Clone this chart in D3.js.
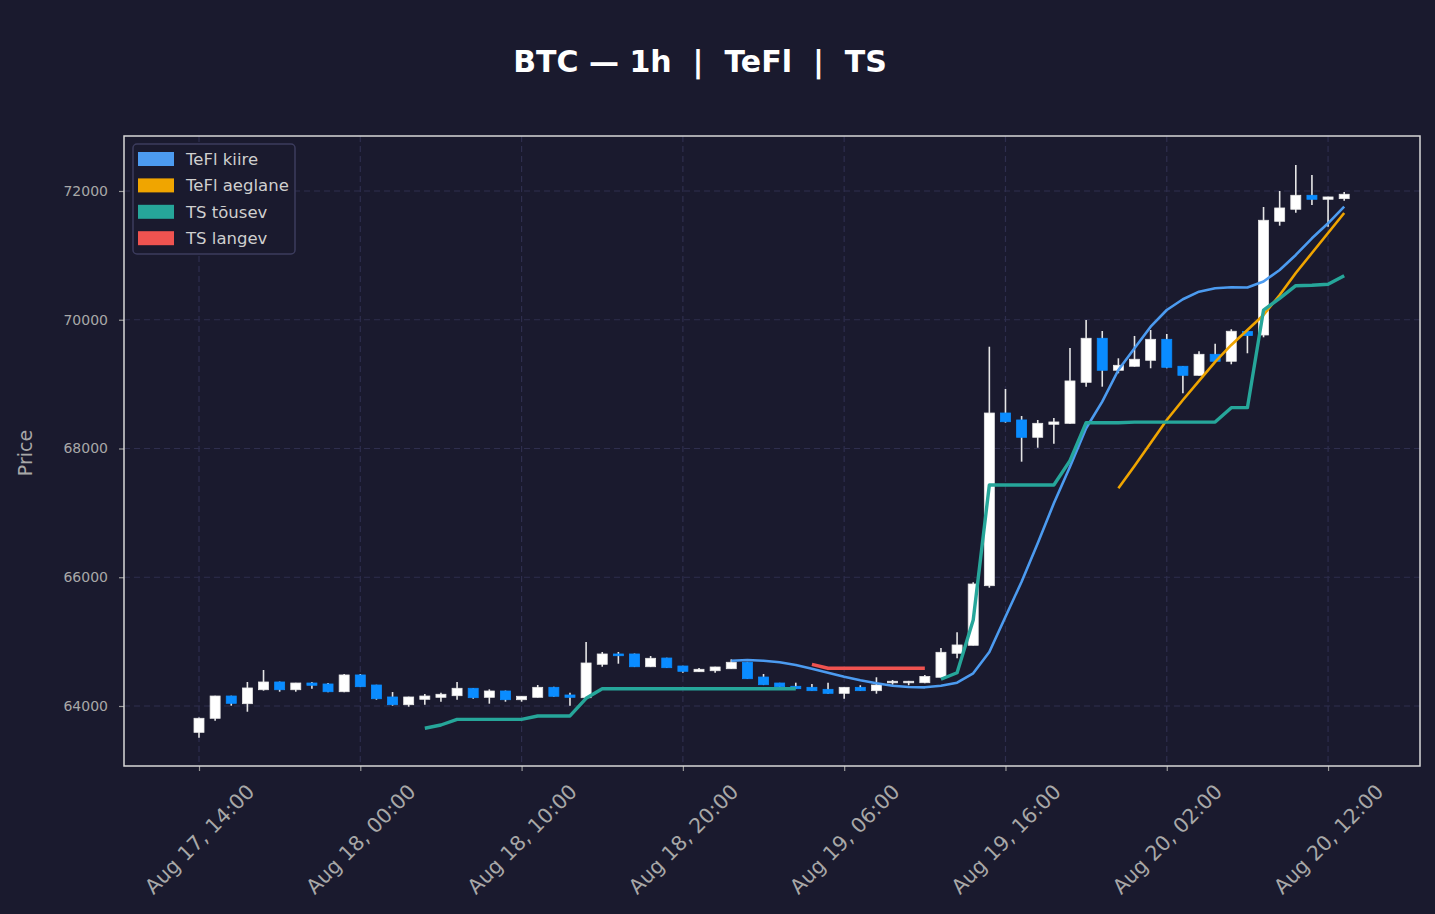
<!DOCTYPE html>
<html>
<head>
<meta charset="utf-8">
<script src="https://cdn.jsdelivr.net/npm/d3@7/dist/d3.min.js"></script>
<style>
  html, body { margin: 0; padding: 0; background: #1a1a2e; }
  svg { display: block; font-family: "DejaVu Sans", sans-serif; }
</style>
</head>
<body>
<div id="graf"></div>
<script>
// hourly candles, first one is Aug 17 14:00
const startTime = Date.UTC(2024, 7, 17, 14, 0)
const hours = d3.range(72)

const opens = [63591,63809,64155,64036,64253,64373,64253,64357,64342,64222,
  64482,64326,64140,64020,64104,64135,64160,64275,64135,64233,
  64098,64135,64290,64171,64129,64648,64808,64808,64610,64745,
  64621,64533,64548,64579,64679,64450,64357,64306,64290,64259,
  64197,64290,64238,64362,64362,64362,64446,64819,64943,65869,
  68551,68443,68174,68376,68391,69028,69712,69215,69277,69370,
  69696,69277,69137,69463,69355,69817,69763,71529,71716,71933,
  71871,71881]
const highs = [63820,64160,64160,64373,64559,64380,64360,64373,64357,64497,
  64497,64330,64217,64145,64186,64207,64373,64280,64259,64240,
  64155,64326,64300,64207,64994,64839,64839,64815,64777,64750,
  64625,64590,64610,64725,64685,64497,64360,64362,64342,64362,
  64295,64322,64446,64404,64390,64482,64901,65145,65922,69581,
  68924,68505,68443,68474,69561,69996,69825,69401,69748,69841,
  69779,69280,69510,69628,69852,69825,71751,72000,72404,72248,
  71910,71984]
const lows = [63508,63772,64005,63911,64238,64222,64222,64269,64215,64215,
  64295,64098,64005,63989,64020,64067,64098,64113,64036,64067,
  64067,64130,64145,64005,64125,64610,64657,64605,64605,64590,
  64517,64528,64517,64575,64420,64325,64295,64265,64235,64190,
  64113,64235,64191,64331,64322,64355,64440,64741,64940,65838,
  68401,67795,68012,68075,68385,68960,68960,69168,69270,69246,
  69246,68857,69130,69350,69308,69479,69727,71461,71663,71783,
  71445,71849]
const closes = [63809,64155,64042,64280,64373,64253,64357,64322,64222,64482,
  64300,64113,64020,64140,64155,64182,64275,64129,64233,64098,
  64151,64290,64151,64135,64668,64808,64781,64610,64741,64595,
  64539,64570,64606,64679,64424,64331,64300,64269,64238,64197,
  64290,64238,64326,64384,64384,64458,64834,64948,65895,68551,
  68416,68174,68391,68412,69049,69712,69215,69292,69386,69696,
  69261,69137,69463,69355,69821,69755,71545,71736,71933,71871,
  71907,71949]

const _ = null
// TeFl kiire (fast), starts at candle 33
const teflKiire = [_,_,_,_,_,_,_,_,_,_, _,_,_,_,_,_,_,_,_,_,
  _,_,_,_,_,_,_,_,_,_, _,_,_,64704,64715,64704,64679,64637,64579,64517,
  64455,64399,64353,64315,64295,64290,64315,64362,64508,64839,
  65387,65931,66527,67149,67717,68314,68727,69219,69557,69892,
  70151,70318,70436,70488,70504,70500,70594,70773,71006,71265,
  71498,71756]
// TeFl aeglane (slow), starts at candle 57
const teflAeglane = [_,_,_,_,_,_,_,_,_,_, _,_,_,_,_,_,_,_,_,_,
  _,_,_,_,_,_,_,_,_,_, _,_,_,_,_,_,_,_,_,_,
  _,_,_,_,_,_,_,_,_,_, _,_,_,_,_,_,_,67382,67728,68085,
  68443,68753,69049,69344,69608,69841,70074,70384,70726,71037,
  71348,71658]
// TS tõusev (uptrend stop)
const tsTousev = [_,_,_,_,_,_,_,_,_,_, _,_,_,_,63655,63705,63793,63793,63793,63793,
  63793,63845,63845,63845,64120,64269,64269,64269,64269,64269,
  64269,64269,64269,64269,64269,64269,64269,64269,_,_,
  _,_,_,_,_,_,64415,64517,65336,67433,
  67433,67433,67433,67433,67811,68400,68400,68400,68410,68410,
  68410,68410,68410,68410,68634,68634,70151,70333,70529,70535,
  70551,70685]
// TS langev (downtrend stop)
const tsLangev = [_,_,_,_,_,_,_,_,_,_, _,_,_,_,_,_,_,_,_,_,
  _,_,_,_,_,_,_,_,_,_, _,_,_,_,_,_,_,_,64648,64586,
  64586,64586,64586,64586,64586,64586,_,_,_,_,
  _,_,_,_,_,_,_,_,_,_, _,_,_,_,_,_,_,_,_,_, _,_]

const yTicks = [64000, 66000, 68000, 70000, 72000]
const xTickHours = [0, 10, 20, 30, 40, 50, 60, 70]

const seriesNames = ['TeFl kiire', 'TeFl aeglane', 'TS tõusev', 'TS langev']
const seriesColors = ['#4c9bf0', '#f0a500', '#26a69a', '#ef5350']

const anchoTotal = 1435
const altoTotal = 914
const margin = { top: 136, bottom: 148, left: 124, right: 15 }
const ancho = anchoTotal - margin.left - margin.right
const alto = altoTotal - margin.top - margin.bottom

const hourMs = 3600 * 1000
const toDate = h => new Date(startTime + h * hourMs)

const svg = d3.select('#graf')
  .append('svg')
  .attr('width', anchoTotal)
  .attr('height', altoTotal)

svg.append('rect')
  .attr('width', anchoTotal)
  .attr('height', altoTotal)
  .attr('fill', '#1a1a2e')

const g = svg.append('g')
  .attr('transform', `translate(${margin.left}, ${margin.top})`)

const x = d3.scaleUtc()
  .domain([toDate(-4.65), toDate(75.7)])
  .range([0, ancho])

const y = d3.scaleLinear()
  .domain([63068, 72854])
  .range([alto, 0])

const fmt = d3.utcFormat('%b %d, %H:%M')

// grid
g.append('g')
  .selectAll('line')
  .data(yTicks)
  .join('line')
  .attr('x1', 0).attr('x2', ancho)
  .attr('y1', d => y(d)).attr('y2', d => y(d))
  .attr('stroke', '#2e2e4e')
  .attr('stroke-width', 1.2)
  .attr('stroke-dasharray', '6,4')

g.append('g')
  .selectAll('line')
  .data(xTickHours)
  .join('line')
  .attr('x1', d => x(toDate(d))).attr('x2', d => x(toDate(d)))
  .attr('y1', 0).attr('y2', alto)
  .attr('stroke', '#2e2e4e')
  .attr('stroke-width', 1.2)
  .attr('stroke-dasharray', '6,4')

// axes
const xAxisGroup = g.append('g')
  .attr('transform', `translate(0, ${alto})`)
  .call(d3.axisBottom(x)
    .tickValues(xTickHours.map(toDate))
    .tickFormat(fmt)
    .tickSize(5))
  .attr('font-family', 'DejaVu Sans')

xAxisGroup.select('.domain').remove()
xAxisGroup.selectAll('line').attr('stroke', '#999').attr('stroke-width', 1.2)
xAxisGroup.selectAll('text')
  .attr('fill', '#a8a8a8')
  .attr('font-size', 20.5)
  .attr('text-anchor', 'middle')
  .attr('x', 0)
  .attr('y', 0)
  .attr('dy', '0.35em')
  .attr('transform', 'translate(0, 73) rotate(-45)')

const yAxisGroup = g.append('g')
  .call(d3.axisLeft(y)
    .tickValues(yTicks)
    .tickFormat(d3.format('d'))
    .tickSize(5)
    .tickPadding(11))
  .attr('font-family', 'DejaVu Sans')

yAxisGroup.select('.domain').remove()
yAxisGroup.selectAll('line').attr('stroke', '#999').attr('stroke-width', 1.2)
yAxisGroup.selectAll('text')
  .attr('fill', '#a8a8a8')
  .attr('font-size', 14)

// candles
const candles = hours.map(i => ({
  t: toDate(i), o: opens[i], h: highs[i], l: lows[i], c: closes[i]
}))
const bodyW = 10

g.append('g')
  .selectAll('line')
  .data(candles)
  .join('line')
  .attr('x1', d => x(d.t)).attr('x2', d => x(d.t))
  .attr('y1', d => y(d.h)).attr('y2', d => y(d.l))
  .attr('stroke', '#e6e6e6')
  .attr('stroke-width', 1.6)

g.append('g')
  .selectAll('rect')
  .data(candles)
  .join('rect')
  .attr('x', d => x(d.t) - bodyW / 2)
  .attr('width', bodyW)
  .attr('y', d => y(Math.max(d.o, d.c)))
  .attr('height', d => Math.max(1.5, Math.abs(y(d.o) - y(d.c))))
  .attr('fill', d => d.c >= d.o ? '#ffffff' : '#0a8cff')
  .attr('stroke', d => d.c >= d.o ? '#e8e8e8' : '#0a8cff')
  .attr('stroke-width', 0.8)

// indicator lines
const lineSeries = [
  { values: teflKiire, color: seriesColors[0], w: 2.6 },
  { values: teflAeglane, color: seriesColors[1], w: 2.6 },
  { values: tsTousev, color: seriesColors[2], w: 3.4 },
  { values: tsLangev, color: seriesColors[3], w: 3.4 }
]

const line = d3.line()
  .defined(d => d.v !== null)
  .x(d => x(toDate(d.i)))
  .y(d => y(d.v))

g.append('g')
  .selectAll('path')
  .data(lineSeries)
  .join('path')
  .attr('d', s => line(s.values.map((v, i) => ({ i, v }))))
  .attr('fill', 'none')
  .attr('stroke', s => s.color)
  .attr('stroke-width', s => s.w)
  .attr('stroke-linejoin', 'round')

// frame
g.append('rect')
  .attr('width', ancho)
  .attr('height', alto)
  .attr('fill', 'none')
  .attr('stroke', '#d8d8d8')
  .attr('stroke-width', 1.5)

// legend
const legend = svg.append('g').attr('transform', 'translate(133, 144)')
legend.append('rect')
  .attr('width', 162)
  .attr('height', 110)
  .attr('rx', 4)
  .attr('fill', '#1a1a2e')
  .attr('stroke', '#3c3c5e')
  .attr('stroke-width', 1.5)

const items = legend.selectAll('g.item')
  .data(seriesNames)
  .join('g')
  .attr('class', 'item')
  .attr('transform', (d, i) => `translate(0, ${15 + i * 26.4})`)

items.append('rect')
  .attr('x', 5)
  .attr('y', -7)
  .attr('width', 36)
  .attr('height', 14)
  .attr('fill', (d, i) => seriesColors[i])

items.append('text')
  .attr('x', 53)
  .attr('y', 6)
  .attr('fill', '#cfcfcf')
  .attr('font-size', 16.5)
  .text(d => d)

// title and y label
svg.append('text')
  .attr('x', 700)
  .attr('y', 72)
  .attr('text-anchor', 'middle')
  .attr('fill', '#ffffff')
  .attr('font-size', 30)
  .attr('font-weight', 'bold')
  .style('white-space', 'pre')
  .text('BTC — 1h  |  TeFl  |  TS')

svg.append('text')
  .attr('transform', 'translate(32, 453) rotate(-90)')
  .attr('text-anchor', 'middle')
  .attr('fill', '#a8a8a8')
  .attr('font-size', 19)
  .text('Price')
</script>
</body>
</html>
